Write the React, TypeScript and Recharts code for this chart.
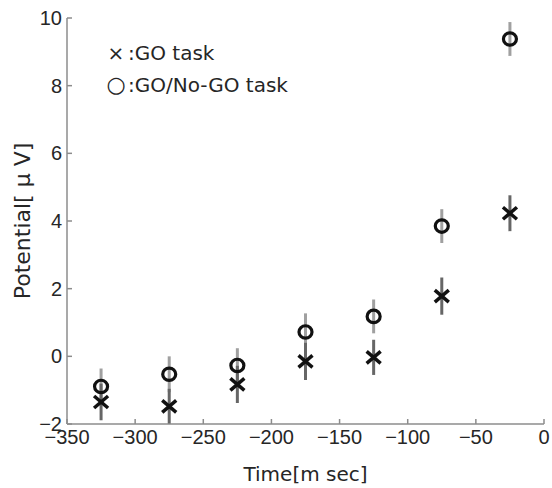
import React from "react";
import { ScatterChart, Scatter, XAxis, YAxis, ErrorBar } from "recharts";

// time bins (ms before movement)
const times = [-325, -275, -225, -175, -125, -75, -25];

// GO task (x markers)
const goMean = [-1.35, -1.48, -0.83, -0.15, -0.03, 1.78, 4.23];
const goErr = [0.54, 0.52, 0.55, 0.55, 0.52, 0.55, 0.53];

// GO/No-GO task (o markers)
const nogoMean = [-0.89, -0.53, -0.27, 0.72, 1.18, 3.85, 9.38];
const nogoErr = [0.53, 0.53, 0.51, 0.55, 0.5, 0.5, 0.5];

const xTicks = [-350, -300, -250, -200, -150, -100, -50, 0];
const yTicks = [-2, 0, 2, 4, 6, 8, 10];

const goData = times.map((t, i) => ({ t, v: goMean[i], err: goErr[i] }));
const nogoData = times.map((t, i) => ({ t, v: nogoMean[i], err: nogoErr[i] }));

const fmt = (v: number) => String(v).replace("-", "\u2212");

const axisColor = "#8c8c8c";
const tickFont = { fontSize: 20, fill: "#262626", fontFamily: "Liberation Sans, Arial, sans-serif" };
const labelFont = "DejaVu Sans, sans-serif";

const Cross = (props: any) => {
  const { cx, cy } = props;
  return (
    <g stroke="#111" strokeWidth={3.5}>
      <line x1={cx - 7} y1={cy - 6} x2={cx + 7} y2={cy + 6} />
      <line x1={cx - 7} y1={cy + 6} x2={cx + 7} y2={cy - 6} />
    </g>
  );
};

const Ring = (props: any) => {
  const { cx, cy } = props;
  return <ellipse cx={cx} cy={cy} rx={6.5} ry={6.2} fill="none" stroke="#111" strokeWidth={3.2} />;
};

const App: React.FC = () => {
  return (
    <div style={{ position: "absolute", left: 0, top: 0, width: 552, height: 488, background: "#fff" }}>
      <ScatterChart width={552} height={488} margin={{ top: 18, right: 8, bottom: 0, left: 0 }}>
        <XAxis
          type="number"
          dataKey="t"
          domain={[-350, 0]}
          ticks={xTicks}
          tickFormatter={fmt}
          height={64}
          stroke={axisColor}
          strokeWidth={1.5}
          tickSize={-5}
          tickMargin={11}
          tick={tickFont}
          label={{ value: "Time[m sec]", position: "insideBottom", offset: 7, fontSize: 20, fill: "#262626", fontFamily: labelFont }}
        />
        <YAxis
          type="number"
          dataKey="v"
          domain={[-2, 10]}
          ticks={yTicks}
          tickFormatter={fmt}
          width={67}
          stroke={axisColor}
          strokeWidth={1.5}
          tickSize={-5}
          tickMargin={10}
          tick={tickFont}
          label={{ value: "Potential[ μ V]", angle: -90, position: "insideLeft", offset: 22, fontSize: 22, fill: "#262626", fontFamily: labelFont, style: { textAnchor: "middle" } }}
        />
        <XAxis
          xAxisId="top"
          orientation="top"
          type="number"
          domain={[-350, 0]}
          ticks={xTicks}
          tickFormatter={() => ""}
          height={0}
          stroke={axisColor}
          strokeWidth={1.5}
          tickSize={-5}
        />
        <YAxis
          yAxisId="right"
          orientation="right"
          type="number"
          domain={[-2, 10]}
          ticks={yTicks}
          tickFormatter={() => ""}
          width={0}
          stroke={axisColor}
          strokeWidth={1.5}
          tickSize={-5}
        />
        <Scatter data={nogoData} dataKey="v" shape={Ring} isAnimationActive={false}>
          <ErrorBar dataKey="err" direction="y" width={0} stroke="#a0a0a0" strokeWidth={3} />
        </Scatter>
        <Scatter data={goData} dataKey="v" shape={Cross} isAnimationActive={false}>
          <ErrorBar dataKey="err" direction="y" width={0} stroke="#666" strokeWidth={3} />
        </Scatter>
      </ScatterChart>
      <div
        style={{
          position: "absolute",
          left: 104,
          top: 37,
          fontFamily: labelFont,
          fontSize: 20,
          lineHeight: "32px",
          color: "#262626",
          whiteSpace: "nowrap",
        }}
      >
        <div>
          <span style={{ display: "inline-block", width: 24, textAlign: "center" }}>×</span>:GO task
        </div>
        <div>
          <span style={{ display: "inline-block", width: 24, textAlign: "center", fontSize: 22 }}>○</span>:GO/No-GO task
        </div>
      </div>
    </div>
  );
};

export default App;
